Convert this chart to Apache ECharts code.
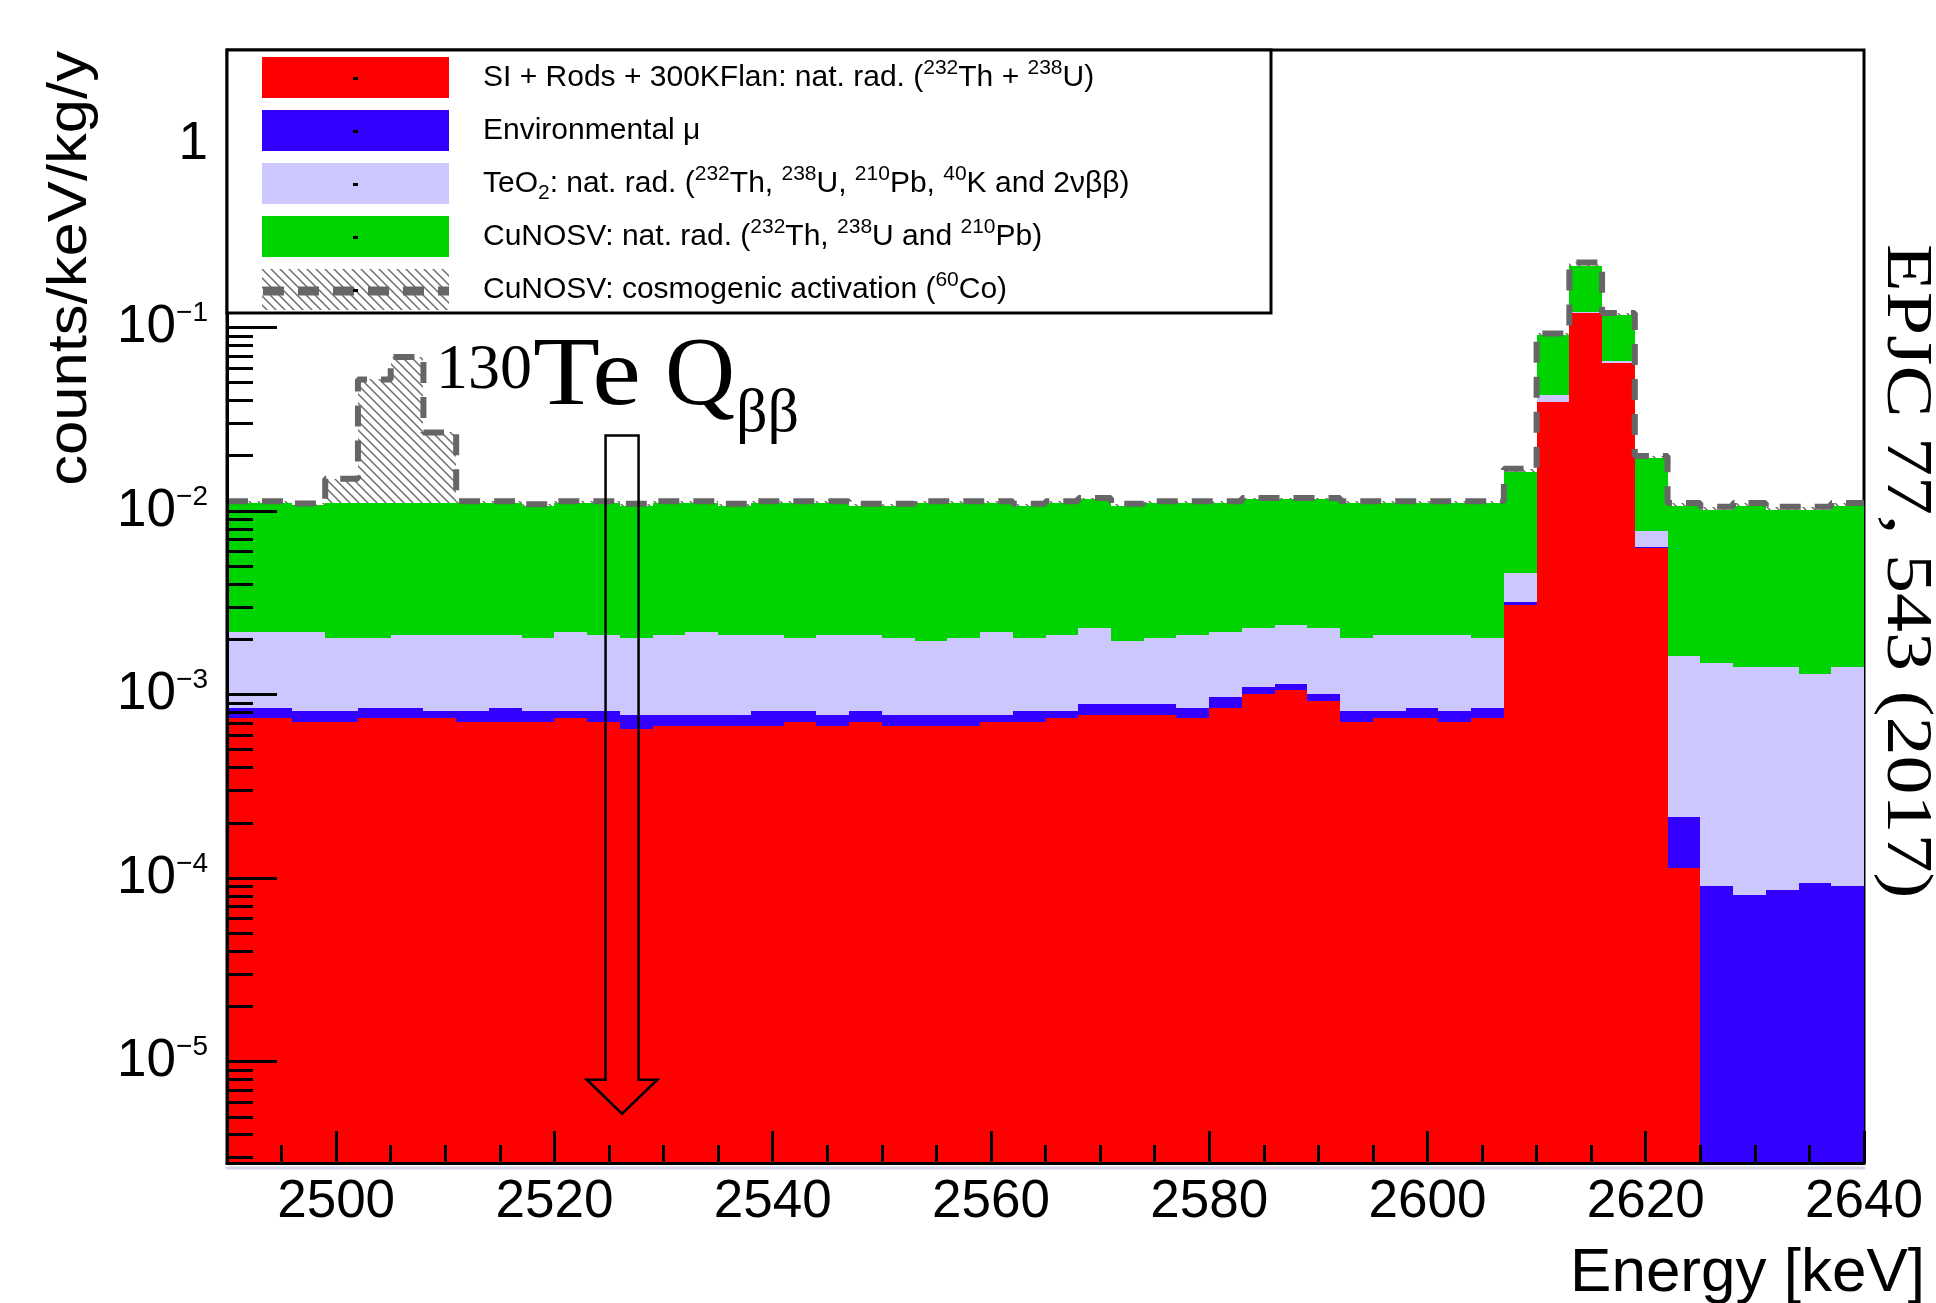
<!DOCTYPE html>
<html><head><meta charset="utf-8">
<script src="https://cdn.jsdelivr.net/npm/echarts@6/dist/echarts.min.js"></script>
<style>html,body{margin:0;padding:0;background:#fff}#c{width:1936px;height:1303px}</style>
</head><body><div id="c"></div>
<script>
// ---------------- data (counts/keV/kg/y per 3 keV bin) ----------------
const binEdges = [2490,2493,2496,2499,2502,2505,2508,2511,2514,2517,2520,2523,2526,2529,2532,2535,2538,2541,2544,2547,2550,2553,2556,2559,2562,2565,2568,2571,2574,2577,2580,2583,2586,2589,2592,2595,2598,2601,2604,2607,2610,2613,2616,2619,2622,2625,2628,2631,2634,2637,2640];

const siRods = [7.42e-4,7.42e-4,7.09e-4,7.09e-4,7.42e-4,7.42e-4,7.42e-4,7.09e-4,7.09e-4,7.09e-4,
 7.42e-4,7.09e-4,6.47e-4,6.77e-4,6.77e-4,6.77e-4,6.77e-4,7.09e-4,6.77e-4,7.09e-4,
 6.77e-4,6.77e-4,6.77e-4,7.09e-4,7.09e-4,7.42e-4,7.73e-4,7.73e-4,7.73e-4,7.42e-4,
 8.47e-4,1.004e-3,1.055e-3,9.20e-4,7.09e-4,7.42e-4,7.42e-4,7.09e-4,7.42e-4,3.08e-3,
 3.93e-2,1.20e-1,6.38e-2,6.29e-3,1.14e-4,0,0,0,0,0];

const envMu = [1.05e-4,1.05e-4,1.04e-4,1.04e-4,1.05e-4,1.05e-4,7.1e-5,1.04e-4,1.38e-4,1.04e-4,
 7.1e-5,1.04e-4,1.26e-4,9.6e-5,9.6e-5,9.6e-5,1.36e-4,1.04e-4,9.6e-5,1.04e-4,
 9.6e-5,9.6e-5,9.6e-5,6.4e-5,1.04e-4,7.1e-5,1.14e-4,1.14e-4,1.14e-4,1.05e-4,
 1.20e-4,9.6e-5,9.2e-5,8.4e-5,1.04e-4,7.1e-5,1.05e-4,1.04e-4,1.05e-4,1.0e-4,
 1.0e-4,1.0e-4,1.0e-4,1.0e-4,1.02e-4,9.04e-5,8.07e-5,8.58e-5,9.36e-5,9.04e-5];

const teo2 = [1.353e-3,1.353e-3,1.387e-3,1.207e-3,1.173e-3,1.263e-3,1.297e-3,1.297e-3,1.263e-3,1.207e-3,
 1.387e-3,1.297e-3,1.247e-3,1.337e-3,1.427e-3,1.337e-3,1.297e-3,1.207e-3,1.337e-3,1.297e-3,
 1.247e-3,1.177e-3,1.247e-3,1.427e-3,1.207e-3,1.297e-3,1.413e-3,1.063e-3,1.133e-3,1.263e-3,
 1.233e-3,1.200e-3,1.253e-3,1.296e-3,1.207e-3,1.297e-3,1.263e-3,1.297e-3,1.173e-3,1.42e-3,
 3.5e-3,1.4e-3,1.9e-3,1.37e-3,1.40e-3,1.40e-3,1.33e-3,1.32e-3,1.20e-3,1.32e-3];

const cuNat = [8.89e-3,8.89e-3,8.60e-3,9.07e-3,9.07e-3,8.98e-3,8.98e-3,8.98e-3,8.98e-3,8.67e-3,
 8.89e-3,8.98e-3,8.67e-3,8.98e-3,8.89e-3,8.58e-3,8.98e-3,9.07e-3,8.98e-3,8.58e-3,
 8.67e-3,9.14e-3,9.07e-3,8.89e-3,8.67e-3,8.98e-3,9.26e-3,8.74e-3,9.07e-3,8.98e-3,
 8.89e-3,9.26e-3,9.16e-3,9.26e-3,9.07e-3,8.98e-3,8.98e-3,8.98e-3,9.07e-3,1.171e-2,
 4.79e-2,9.45e-2,5.16e-2,1.178e-2,9.00e-3,8.61e-3,9.19e-3,8.69e-3,8.80e-3,9.19e-3];

const cuCosmo = [2e-4,2e-4,2e-4,3.9e-3,4.1e-2,5.8e-2,1.57e-2,2e-4,2e-4,2e-4,
 2e-4,2e-4,2.5e-4,2e-4,2e-4,2.5e-4,2e-4,2e-4,2e-4,2.5e-4,
 2.5e-4,2e-4,2e-4,2e-4,2.5e-4,2e-4,2e-4,2.5e-4,2e-4,2e-4,
 2e-4,2e-4,2e-4,2e-4,2e-4,2e-4,2e-4,2e-4,2e-4,7e-4,
 2.0e-3,1.0e-2,2.5e-3,4e-4,4.5e-4,4.5e-4,4.5e-4,4.5e-4,4.5e-4,4.5e-4];

const seriesNames = [
 'SI + Rods + 300KFlan: nat. rad. (232Th + 238U)',
 'Environmental μ',
 'TeO2: nat. rad. (232Th, 238U, 210Pb, 40K and 2νββ)',
 'CuNOSV: nat. rad. (232Th, 238U and 210Pb)',
 'CuNOSV: cosmogenic activation (60Co)'
];
const legendRichText = [
 '{f|SI + Rods + 300KFlan: nat. rad. (}{s|232}{n|Th + }{s|238}{n|U)}',
 '{f|Environmental μ}',
 '{f|TeO}{b|2}{n|: nat. rad. (}{s|232}{n|Th, }{s|238}{n|U, }{s|210}{n|Pb, }{s|40}{n|K and 2νββ)}',
 '{f|CuNOSV: nat. rad. (}{s|232}{n|Th, }{s|238}{n|U and }{s|210}{n|Pb)}',
 '{f|CuNOSV: cosmogenic activation (}{s|60}{n|Co)}'
];

const xMajorTicks = [2500,2520,2540,2560,2580,2600,2620,2640];
const xMinorTicks = [2495,2505,2510,2515,2525,2530,2535,2545,2550,2555,2565,2570,2575,2585,2590,2595,2605,2610,2615,2625,2630,2635];
const yMajorTicks = [1e-5,1e-4,1e-3,1e-2,1e-1,1];
const yMinorTicks = [3e-6,4e-6,5e-6,6e-6,7e-6,8e-6,9e-6,
 2e-5,3e-5,4e-5,5e-5,6e-5,7e-5,8e-5,9e-5,
 2e-4,3e-4,4e-4,5e-4,6e-4,7e-4,8e-4,9e-4,
 2e-3,3e-3,4e-3,5e-3,6e-3,7e-3,8e-3,9e-3,
 2e-2,3e-2,4e-2,5e-2,6e-2,7e-2,8e-2,9e-2,
 0.2,0.3,0.4,0.5,0.6,0.7,0.8,0.9,2,3];

const Y_MIN = 2.8e-6, Y_MAX = 3.25, X_MIN = 2490, X_MAX = 2640;
const qbbArrow = [2526.2, 0.0258, 5.2e-6]; // x, top value, tip value

// ---------------- styling helpers ----------------
const SANS = 'Liberation Sans', SERIF = 'Liberation Serif';
const colors = ['#ff0000', '#3300ff', '#ccc7ff', '#00d400'];

function makeHatch() {
  const c = document.createElement('canvas');
  c.width = 9; c.height = 9;
  const g = c.getContext('2d');
  g.fillStyle = '#ffffff'; g.fillRect(0, 0, 9, 9);
  g.strokeStyle = '#6e6e6e'; g.lineWidth = 1.5;
  g.beginPath();
  g.moveTo(-2, -2); g.lineTo(11, 11);
  g.moveTo(-2, 7); g.lineTo(2, 11);
  g.moveTo(7, -2); g.lineTo(11, 2);
  g.stroke();
  return c;
}
const hatch = {image: makeHatch(), repeat: 'repeat'};
const fills = colors.concat([hatch]);

// cumulative stacking
const layers = [siRods, envMu, teo2, cuNat, cuCosmo];
const stackBounds = [];
let running = siRods.map(() => 0);
layers.forEach(arr => {
  const lower = running;
  running = running.map((v, k) => v + arr[k]);
  stackBounds.push([lower, running]);
});
const total = running;

function layerSeries(i) {
  const [lower, upper] = stackBounds[i];
  const fill = fills[i];
  return {
    type: 'custom', name: seriesNames[i], coordinateSystem: 'cartesian2d',
    xAxisIndex: 0, yAxisIndex: 0, clip: true, silent: true, z: 2,
    itemStyle: {color: typeof fill === 'string' ? fill : '#888'},
    encode: {x: [0, 1], y: [2, 3]},
    data: upper.map((u, k) => [binEdges[k], binEdges[k + 1], lower[k], u]),
    renderItem(params, api) {
      const lo = api.value(2), hi = api.value(3);
      if (!(hi > lo)) return {type: 'group', children: []};
      const a = api.coord([api.value(0), Math.max(lo, Y_MIN)]);
      const b = api.coord([api.value(1), hi]);
      const x0 = Math.round(a[0]), x1 = Math.round(b[0]);
      const y0 = Math.round(a[1]), y1 = Math.round(b[1]);
      return {type: 'rect', shape: {x: x0, y: y1, width: x1 - x0, height: y0 - y1}, style: {fill: fill}};
    }
  };
}

const outlineData = total.map((v, k) => [binEdges[k], v]);
outlineData.push([binEdges[binEdges.length - 1], total[total.length - 1]]);

const legendTop = 57, legendPitch = 53;
const graphics = [
  {type: 'rect', z: 15, shape: {x: 227, y: 50, width: 1044, height: 263},
   style: {fill: '#ffffff', stroke: '#000000', lineWidth: 3}},
  {type: 'polyline', z: 30, shape: {points: [[263, legendTop + 4 * legendPitch + 22], [449, legendTop + 4 * legendPitch + 22]]},
   style: {stroke: '#666666', lineWidth: 9, lineDash: [21, 14], fill: null}},
  // annotation 130Te Qbb
  {type: 'text', z: 30, x: 436, y: 371, style: {text: '130', fontSize: 64, fontFamily: SERIF, fill: '#000', align: 'left', verticalAlign: 'middle', textAlign: 'left', textVerticalAlign: 'middle'}},
  {type: 'text', z: 30, x: 533, y: 379, scaleX: 1.13, style: {text: 'Te', fontSize: 97, fontFamily: SERIF, fill: '#000', align: 'left', verticalAlign: 'middle', textAlign: 'left', textVerticalAlign: 'middle'}},
  {type: 'text', z: 30, x: 665, y: 379, style: {text: 'Q', fontSize: 97, fontFamily: SERIF, fill: '#000', align: 'left', verticalAlign: 'middle', textAlign: 'left', textVerticalAlign: 'middle'}},
  {type: 'text', z: 30, x: 736, y: 415, style: {text: 'ββ', fontSize: 62, fontFamily: SERIF, fill: '#000', align: 'left', verticalAlign: 'middle', textAlign: 'left', textVerticalAlign: 'middle'}},
  // axis titles
  {type: 'text', z: 30, x: 71, y: 51, rotation: Math.PI / 2, scaleX: 1.12,
   style: {text: 'counts/keV/kg/y', fontSize: 55, fontFamily: SANS, fill: '#000', align: 'right', verticalAlign: 'middle', textAlign: 'right', textVerticalAlign: 'middle'}},
  {type: 'text', z: 30, x: 1925, y: 1274,
   style: {text: 'Energy [keV]', fontSize: 62, fontFamily: SANS, fill: '#000', align: 'right', verticalAlign: 'middle', textAlign: 'right', textVerticalAlign: 'middle'}},
  {type: 'text', z: 30, x: 1905, y: 244, rotation: -Math.PI / 2, scaleX: 1.2,
   style: {text: 'EPJC 77, 543 (2017)', fontSize: 65, fontFamily: SERIF, fill: '#000', align: 'left', verticalAlign: 'middle', textAlign: 'left', textVerticalAlign: 'middle'}}
];
for (let i = 0; i < 5; i++) {
  graphics.push({type: 'rect', z: 30, shape: {x: 353, y: legendTop + i * legendPitch + 20, width: 5, height: 3}, style: {fill: '#000'}});
}

const txt = {fontFamily: SANS, color: '#000'};
const option = {
  animation: false,
  backgroundColor: '#ffffff',
  textStyle: {fontFamily: SANS},
  grid: {left: 227, right: 72, top: 50, bottom: 140, show: true, borderColor: '#000', borderWidth: 3,
         backgroundColor: 'transparent', containLabel: false, outerBoundsMode: 'none'},
  legend: {
    show: true, orient: 'vertical', left: 262, top: legendTop, padding: 0, z: 20,
    itemWidth: 187, itemHeight: 41, itemGap: 12, icon: 'rect', selectedMode: false,
    data: seriesNames.map((n, i) => ({name: n, icon: 'rect', itemStyle: {color: fills[i], borderWidth: 0}})),
    formatter: name => legendRichText[seriesNames.indexOf(name)],
    textStyle: {fontSize: 30, fontFamily: SANS, color: '#000',
      rich: {
        f: {fontSize: 30, lineHeight: 40, fontFamily: SANS, color: '#000', padding: [0, 0, 0, 29]},
        n: {fontSize: 30, lineHeight: 40, fontFamily: SANS, color: '#000'},
        s: {fontSize: 21, lineHeight: 21, fontFamily: SANS, color: '#000', verticalAlign: 'top'},
        b: {fontSize: 21, lineHeight: 21, fontFamily: SANS, color: '#000', verticalAlign: 'bottom'}
      }}
  },
  xAxis: [
    {type: 'value', min: X_MIN, max: X_MAX, position: 'bottom', z: 10,
     axisLine: {show: true, onZero: false, lineStyle: {color: '#000', width: 3, shadowColor: '#d6d4e8', shadowOffsetY: 4.5, shadowBlur: 0}},
     axisTick: {show: true, inside: true, length: 32, customValues: xMajorTicks, lineStyle: {color: '#000', width: 3}},
     axisLabel: Object.assign({show: true, customValues: xMajorTicks, margin: 13, fontSize: 53, formatter: v => String(v)}, txt),
     splitLine: {show: false}},
    {type: 'value', min: X_MIN, max: X_MAX, position: 'bottom', z: 10,
     axisLine: {show: false, onZero: false},
     axisTick: {show: true, inside: true, length: 18, customValues: xMinorTicks, lineStyle: {color: '#000', width: 3}},
     axisLabel: {show: false}, splitLine: {show: false}}
  ],
  yAxis: [
    {type: 'log', logBase: 10, min: Y_MIN, max: Y_MAX, position: 'left', z: 10,
     axisLine: {show: true, lineStyle: {color: '#000', width: 3}},
     axisTick: {show: true, inside: true, length: 50, customValues: yMajorTicks, lineStyle: {color: '#000', width: 3}},
     axisLabel: Object.assign({show: true, customValues: yMajorTicks, margin: 19, fontSize: 53,
       formatter: v => { const e = Math.round(Math.log10(v)); return e === 0 ? '{m|1}' : '{m|10}{s|\u2212' + (-e) + '}'; },
       rich: {m: {fontSize: 53, lineHeight: 56, fontFamily: SANS, color: '#000'},
              s: {fontSize: 28, lineHeight: 30, fontFamily: SANS, color: '#000', verticalAlign: 'top'}}}, txt),
     splitLine: {show: false}},
    {type: 'log', logBase: 10, min: Y_MIN, max: Y_MAX, position: 'left', z: 10,
     axisLine: {show: false},
     axisTick: {show: true, inside: true, length: 26, customValues: yMinorTicks, lineStyle: {color: '#000', width: 3}},
     axisLabel: {show: false}, splitLine: {show: false}}
  ],
  series: [
    layerSeries(0), layerSeries(1), layerSeries(2), layerSeries(3), layerSeries(4),
    {type: 'line', name: 'total', xAxisIndex: 0, yAxisIndex: 0, step: 'end', data: outlineData,
     symbol: 'none', showSymbol: false, silent: true, z: 4, clip: true,
     lineStyle: {color: '#666666', width: 6, type: [21, 14], cap: 'butt'}},
    {type: 'custom', name: 'Qbb', coordinateSystem: 'cartesian2d', xAxisIndex: 0, yAxisIndex: 0,
     silent: true, z: 6, clip: false, data: [qbbArrow], encode: {x: 0, y: [1, 2]},
     renderItem(params, api) {
       const top = api.coord([api.value(0), api.value(1)]);
       const tip = api.coord([api.value(0), api.value(2)]);
       const cx = top[0], hw = 16.5, hh = 35.3, hl = 34;
       return {type: 'polygon', shape: {points: [[cx - hw, top[1]], [cx + hw, top[1]], [cx + hw, tip[1] - hl],
         [cx + hh, tip[1] - hl], [cx, tip[1]], [cx - hh, tip[1] - hl], [cx - hw, tip[1] - hl]]},
         style: {fill: 'none', stroke: '#000', lineWidth: 2.5}};
     }}
  ],
  graphic: graphics
};

const chart = echarts.init(document.getElementById('c'), null, {renderer: 'canvas'});
chart.setOption(option);
</script>
</body></html>
